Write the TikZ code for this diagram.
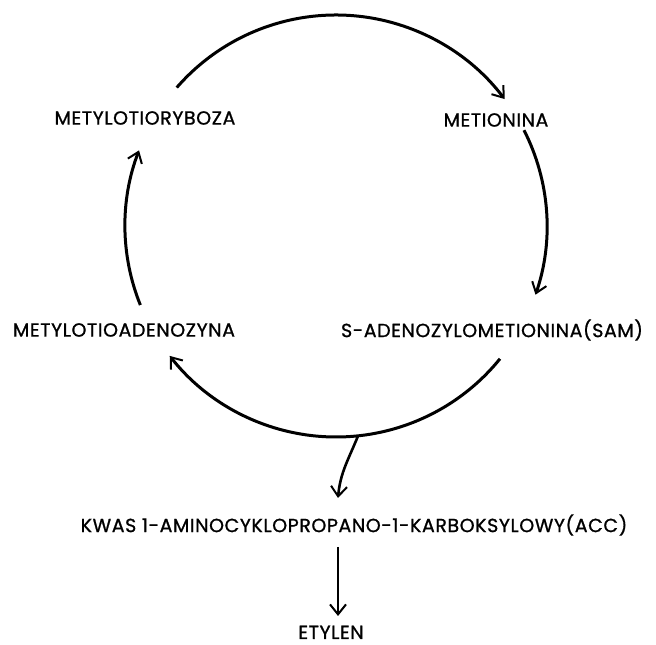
\documentclass[tikz,border=0pt]{standalone}
\usepackage{fontspec}
\setmainfont{Poppins}[LetterSpace=3,FakeBold=1]
\usetikzlibrary{arrows.meta,calc}
\begin{document}
\begin{tikzpicture}[x=1pt,y=1pt,
  lbl/.style={inner sep=0pt, font=\fontsize{19}{22}\selectfont},
  cyc/.style={line width=3pt, -{Straight Barb[length=10pt,width=15pt,line width=2pt]}},
  lin/.style={line width=2.6pt, -{Straight Barb[length=10pt,width=16pt,line width=2pt]}}]
\useasboundingbox (0,0) rectangle (656,645);
\coordinate (c) at (336,419);
\node[lbl] (mtr) at (145,527) {METYLOTIORYBOZA};
\node[lbl] (met) at (496,525) {METIONINA};
\node[lbl] (mta) at (124,315) {METYLOTIOADENOZYNA};
\node[lbl] (sam) at (492,315) {S-ADENOZYLOMETIONINA(SAM)};
\node[lbl] (acc) at (354,120) {KWAS 1-AMINOCYKLOPROPANO-1-KARBOKSYLOWY(ACC)};
\node[lbl, anchor=base] (ety) at (331,6) {ETYLEN};
% cycle arcs
\draw[cyc] ($(c)+(139:211)$) arc[start angle=139,end angle=37,radius=211];
\draw[cyc] ($(c)+(27:211)$) arc[start angle=27,end angle=-19,radius=211];
\draw[cyc] ($(c)+(-39:211)$) arc[start angle=-39,end angle=-142,radius=211];
\draw[cyc] ($(c)+(202:211)$) arc[start angle=202,end angle=159,radius=211];
% branch to ACC
\coordinate (b) at ($(c)+(-84:211)$);
\coordinate (accin) at (338,147);
\coordinate (accout) at (338,98);
\coordinate (etyin) at (338,29);
\draw[lin] (b) to[out=-112,in=85] (accin);
\draw[lin] (accout) -- (etyin);
\end{tikzpicture}
\end{document}
